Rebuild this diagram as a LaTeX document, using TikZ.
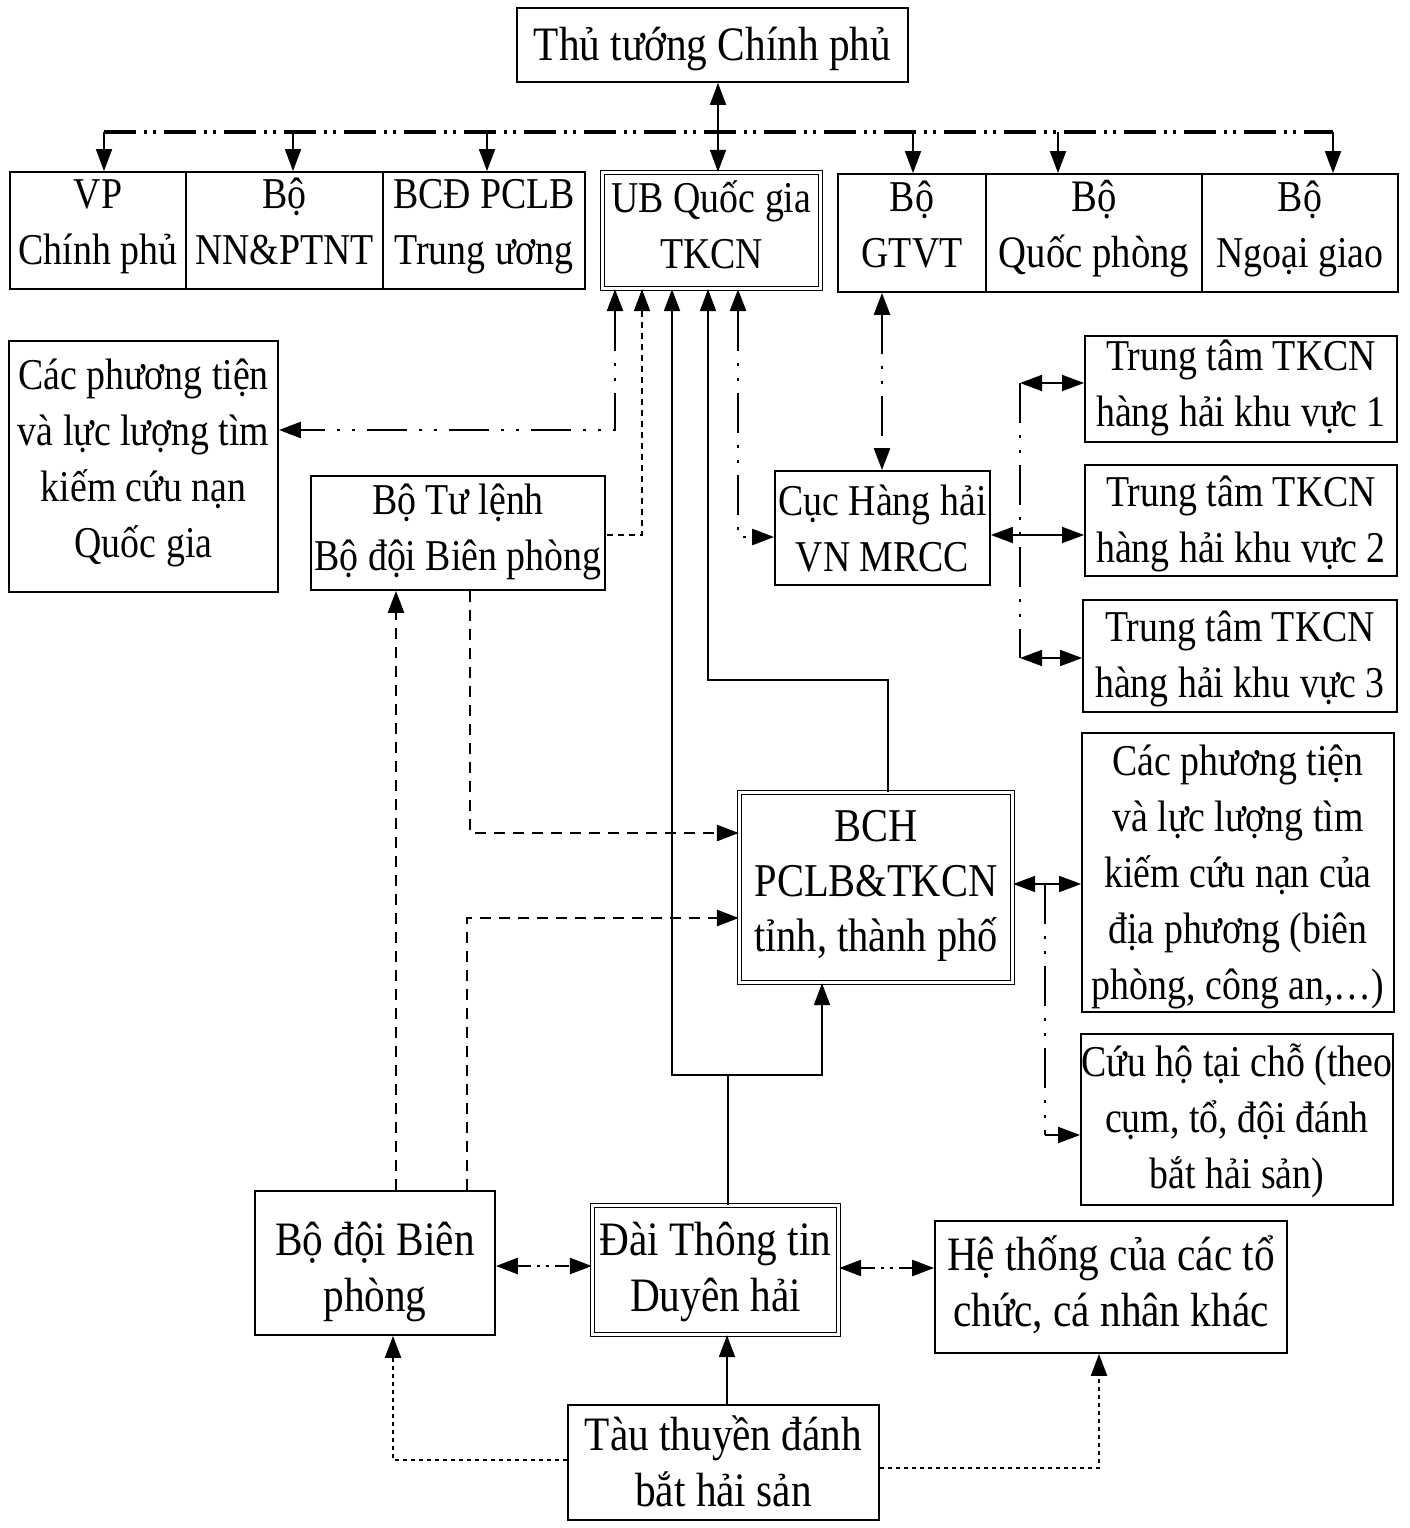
\documentclass[tikz,border=0pt]{standalone}
\usepackage{fontspec}
\setmainfont[FakeStretch=0.86]{Liberation Serif}
\usetikzlibrary{arrows.meta}
\newcommand\Tp[1][0]{\rule{0pt}{\dimexpr39.2pt+#1pt*2\relax}}
\newcommand\Bt[1][0]{\rule[-\dimexpr16.8pt+#1pt*2\relax]{0pt}{0pt}}
\begin{document}
\begin{tikzpicture}[x=1pt,y=-1pt,
  box/.style={draw, line width=1.8pt, align=center, inner xsep=0pt, inner ysep=-16pt, font=\fontsize{44}{56}\selectfont},
  big/.style={font=\fontsize{48}{56}\selectfont},
  dbox/.style={box, double, double distance=3pt, line width=1.3pt},
  sol/.style={line width=1.8pt},
  tip/.style={-{Triangle[length=22pt,width=16pt]}},
  tipb/.style={{Triangle[length=22pt,width=16pt]}-{Triangle[length=22pt,width=16pt]}},
  tipr/.style={{Triangle[length=22pt,width=16pt]}-},
  ddd/.style={line width=2.6pt, dash pattern=on 40pt off 12pt on 3pt off 12pt on 3pt off 12pt},
  dddbar/.style={line width=4.5pt, dash pattern=on 32pt off 8pt on 3pt off 6pt on 3pt off 8pt},
  dddshort/.style={line width=2.6pt, dash pattern=on 14pt off 6pt on 3pt off 6pt on 3pt off 6pt},
  dsh/.style={line width=2.6pt, dash pattern=on 11pt off 8pt},
  fdsh/.style={line width=1.8pt, dash pattern=on 6pt off 5pt},
  dot/.style={line width=2.2pt, dash pattern=on 4pt off 4pt}
]
\useasboundingbox[fill=white] (0,0) rectangle (1409,1528);
% nodes
\node[box, big, minimum width=391pt, minimum height=74pt] (TT) at (712.5,45) {\Tp[4]Thủ tướng Chính phủ\Bt};
\node[box, minimum width=176pt, minimum height=117pt] (VP) at (98,230.5) {\Tp VP\\Chính phủ\Bt[5]};
\node[box, minimum width=197pt, minimum height=117pt] (NN) at (284.5,230.5) {\Tp Bộ\\NN\&PTNT\Bt[5]};
\node[box, minimum width=202pt, minimum height=117pt] (BCD) at (484,230.5) {\Tp BCĐ PCLB\\Trung ương\Bt[5]};
\node[dbox, minimum width=218pt, minimum height=116pt] (UB) at (711.5,230.5) {\Tp UB Quốc gia\\TKCN\Bt[1]};
\node[box, minimum width=148pt, minimum height=118pt] (GT) at (912,233) {\Tp Bộ\\GTVT\Bt[5]};
\node[box, minimum width=216pt, minimum height=118pt, font=\fontsize{45}{56}\selectfont] (QP) at (1094,233) {\Tp Bộ\\Quốc phòng\Bt[5]};
\node[box, minimum width=196pt, minimum height=118pt] (NG) at (1300,233) {\Tp Bộ\\Ngoại giao\Bt[5]};
\node[box, minimum width=269pt, minimum height=251pt] (QG) at (143.5,466.5) {\Tp Các phương tiện\\và lực lượng tìm\\kiếm cứu nạn\\Quốc gia\Bt[4]};
\node[box, minimum width=294pt, minimum height=114pt] (BTL) at (458,533) {\Tp Bộ Tư lệnh\\Bộ đội Biên phòng\Bt[2]};
\node[box, minimum width=215pt, minimum height=114pt] (CUC) at (882.5,528) {\Tp[4]Cục Hàng hải\\VN MRCC\Bt};
\node[box, minimum width=312pt, minimum height=106pt] (K1) at (1241,389) {\Tp Trung tâm TKCN\\hàng hải khu vực 1\Bt[2]};
\node[box, minimum width=312pt, minimum height=111pt] (K2) at (1241,520.5) {\Tp[3]Trung tâm TKCN\\hàng hải khu vực 2\Bt};
\node[box, minimum width=314pt, minimum height=112pt] (K3) at (1240,656) {\Tp[2]Trung tâm TKCN\\hàng hải khu vực 3\Bt};
\node[box, minimum width=312pt, minimum height=279pt] (DP) at (1238,872.5) {\Tp[4]Các phương tiện\\và lực lượng tìm\\kiếm cứu nạn của\\địa phương (biên\\phòng, công an,\dots)\Bt};
\node[box, minimum width=312pt, minimum height=171pt] (CH) at (1237,1119.5) {\Tp[2]Cứu hộ tại chỗ (theo\\cụm, tổ, đội đánh\\bắt hải sản)\Bt};
\node[dbox, minimum width=273pt, minimum height=190pt, font=\fontsize{47}{55}\selectfont] (BCH) at (876,887.5) {\Tp BCH\\PCLB\&TKCN\\tỉnh, thành phố\Bt[2]};
\node[box, big, minimum width=240pt, minimum height=144pt] (BDBP) at (375,1263) {\Tp[9]Bộ đội Biên\\phòng\Bt};
\node[dbox, big, minimum width=246pt, minimum height=129pt] (DAI) at (715.5,1270) {\Tp[2]Đài Thông tin\\Duyên hải\Bt};
\node[box, big, minimum width=352pt, minimum height=132pt] (HT) at (1111,1287) {\Tp Hệ thống của các tổ\\chức, cá nhân khác\Bt};
\node[box, big, minimum width=311pt, minimum height=115pt] (TAU) at (723.5,1462.5) {\Tp[5]Tàu thuyền đánh\\bắt hải sản\Bt};
% top
\draw[sol, tipb] (718,0 |- TT.south) -- (718,0 |- UB.north);
\coordinate (barL) at (104,132);
\coordinate (barR) at (1333,132);
\draw[dddbar] (barL) -- (barR);
\draw[sol, tip] (barL) -- (barL |- VP.north);
\draw[sol, tip] (293,132) -- (293,0 |- NN.north);
\draw[sol, tip] (487,132) -- (487,0 |- BCD.north);
\draw[sol, tip] (913,132) -- (913,0 |- GT.north);
\draw[sol, tip] (1058,132) -- (1058,0 |- QP.north);
\draw[sol, tip] (barR) -- (barR |- NG.north);
% from UB
\draw[ddd, tipb] (615,0 |- UB.south) -- (615,430) -- (QG.east |- 0,430);
\draw[fdsh, tipr] (642,0 |- UB.south) -- (642,535) -- (BTL.east |- 0,535);
\draw[sol, tipb] (672,0 |- UB.south) -- (672,1075) -- (822,1075) -- (822,0 |- BCH.south);
\draw[sol] (728,0 |- DAI.north) -- (728,1075);
\draw[sol, tipr] (708,0 |- UB.south) -- (708,680) -- (888,680) -- (888,0 |- BCH.north);
\draw[ddd, tipb] (738,0 |- UB.south) -- (738,537) -- (CUC.west |- 0,537);
% GTVT - Cuc
\draw[ddd, tipb] (882,0 |- GT.south) -- (882,0 |- CUC.north);
% Cuc - centres
\draw[ddd] (1020,383) -- (1020,658);
\draw[sol, tipb] (1020,383) -- (K1.west |- 0,383);
\draw[sol, tipb] (CUC.east |- 0,535) -- (K2.west |- 0,535);
\draw[sol, tipb] (1020,658) -- (K3.west |- 0,658);
% BCH - right
\draw[sol, tipb] (BCH.east |- 0,884) -- (DP.west |- 0,884);
\draw[ddd] (1045,884) -- (1045,1135);
\draw[sol, tip] (1045,1135) -- (CH.west |- 0,1135);
% dashed
\draw[dsh, tip] (470,0 |- BTL.south) -- (470,833) -- (BCH.west |- 0,833);
\draw[dsh, tip] (467,0 |- BDBP.north) -- (467,918) -- (BCH.west |- 0,918);
\draw[dsh, tip] (396,0 |- BDBP.north) -- (396,0 |- BTL.south);
% bottom
\draw[dddshort, tipb] (BDBP.east |- 0,1266) -- (DAI.west |- 0,1266);
\draw[dddshort, tipb] (DAI.east |- 0,1268) -- (HT.west |- 0,1268);
\draw[sol, tip] (727,0 |- TAU.north) -- (727,0 |- DAI.south);
\draw[dot, tip] (TAU.west |- 0,1460) -- (393,1460) -- (393,0 |- BDBP.south);
\draw[dot, tip] (TAU.east |- 0,1468) -- (1099,1468) -- (1099,0 |- HT.south);
\end{tikzpicture}
\end{document}
